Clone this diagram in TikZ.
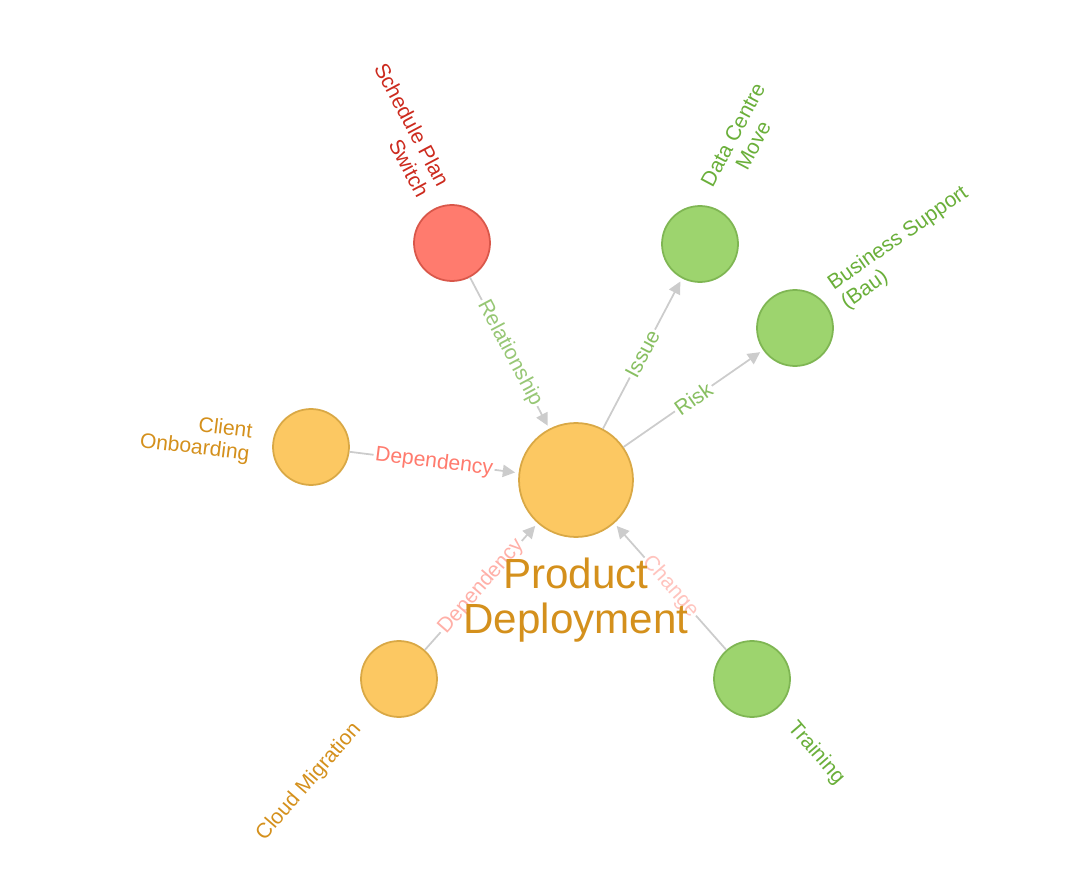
\documentclass[tikz,border=0pt]{standalone}
\usepackage{fontspec}
\setmainfont{Liberation Sans}
\usetikzlibrary{arrows.meta}
\definecolor{redfill}{HTML}{FF7B6E}
\definecolor{redline}{HTML}{D9574A}
\definecolor{redtext}{HTML}{CC2A1E}
\definecolor{greenfill}{HTML}{9DD46E}
\definecolor{greenline}{HTML}{7FB653}
\definecolor{greentext}{HTML}{6AAF3A}
\definecolor{orangefill}{HTML}{FCC862}
\definecolor{orangeline}{HTML}{D9A845}
\definecolor{orangetext}{HTML}{D4901C}
\definecolor{edgegray}{HTML}{CCCCCC}
\tikzset{
  topic/.style={draw, circle, line width=1pt, minimum size=1.52cm, inner sep=0pt},
  edge/.style={draw=edgegray, line width=1pt, -{Triangle[length=7pt,width=7pt]}, shorten >=2pt},
  elabel/.style={fill=white, inner sep=1pt, font=\fontsize{12}{13}\selectfont},
  nlabel/.style={align=center, font=\fontsize{12}{13}\selectfont}
}
\begin{document}
\begin{tikzpicture}[x=0.02cm,y=-0.02cm]
\useasboundingbox (0,0) rectangle (1076,878);
\draw (576,480) node[topic, draw=orangeline, fill=orangefill, minimum size=2.28cm] (deploy) {};
\draw (452,243) node[topic, draw=redline, fill=redfill] (sched) {};
\draw (700,244) node[topic, draw=greenline, fill=greenfill] (dcm) {};
\draw (795,328) node[topic, draw=greenline, fill=greenfill] (bau) {};
\draw (311,447) node[topic, draw=orangeline, fill=orangefill] (client) {};
\draw (399,679) node[topic, draw=orangeline, fill=orangefill] (cloud) {};
\draw (752,679) node[topic, draw=greenline, fill=greenfill] (train) {};
\draw[edge] (sched) -- node[elabel, text=greentext!70, rotate=-62] {Relationship} (deploy);
\draw[edge] (deploy) -- node[elabel, text=greentext!80, rotate=62] {Issue} (dcm);
\draw[edge] (deploy) -- node[elabel, text=greentext!80, rotate=35] {Risk} (bau);
\draw[edge] (client) -- node[elabel, text=redfill, rotate=-7] {Dependency} (deploy);
\draw[edge] (cloud) -- node[elabel, text=redfill!60, rotate=49] {Dependency} (deploy);
\draw[edge] (train) -- node[elabel, text=redfill!45, rotate=-49] {Change} (deploy);
\draw (402,130) node[nlabel, text=redtext, rotate=-62, align=right] (schedtxt) {Schedule Plan\\Switch};
\draw (743,140) node[nlabel, text=greentext, rotate=62] (dcmtxt) {Data Centre\\Move};
\draw (905,248) node[nlabel, text=greentext, rotate=35, align=left] (bautxt) {Business Support\\(Bau)};
\draw (196,437) node[nlabel, text=orangetext, rotate=-7, align=right] (clienttxt) {Client\\Onboarding};
\draw (309,782) node[nlabel, text=orangetext, rotate=49] (cloudtxt) {Cloud Migration};
\draw (816,753) node[nlabel, text=greentext, rotate=-49] (traintxt) {Training};
\draw (576,600) node[align=center, text=orangetext, font=\fontsize{24}{26}\selectfont] (deploytxt) {Product\\Deployment};
\end{tikzpicture}
\end{document}
